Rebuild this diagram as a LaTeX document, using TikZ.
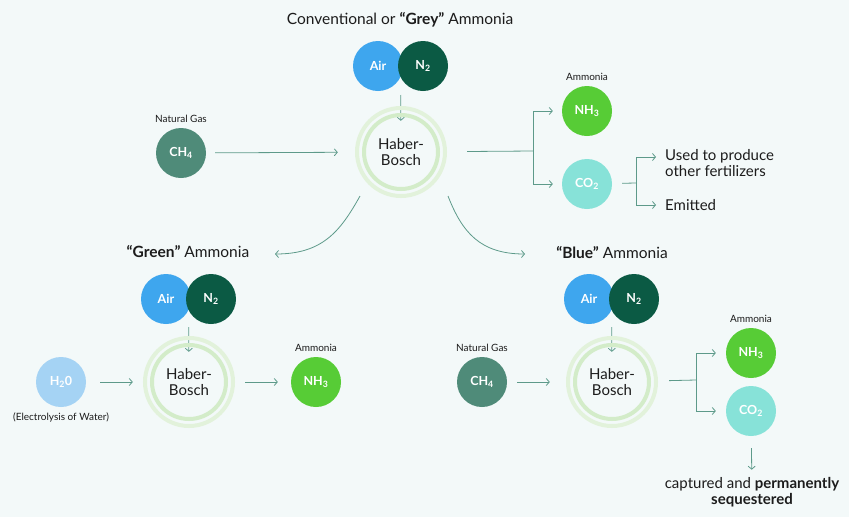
\documentclass[tikz,border=0pt]{standalone}
\usepackage{fontspec}
\setmainfont{Lato}
\usetikzlibrary{arrows.meta,positioning,calc}
\definecolor{bgcol}{HTML}{F3F9F9}
\definecolor{aircol}{HTML}{3EA6EE}
\definecolor{ntwocol}{HTML}{0B5A44}
\definecolor{nhcol}{HTML}{57CC36}
\definecolor{cocol}{HTML}{87E2D8}
\definecolor{chcol}{HTML}{4F8B79}
\definecolor{hocol}{HTML}{A5D3F4}
\definecolor{ringa}{HTML}{E2F2DB}
\definecolor{ringb}{HTML}{D3ECC9}
\definecolor{linecol}{HTML}{5D9A8A}
\definecolor{txtcol}{HTML}{1C1C1C}

\tikzset{
  bubble/.style={circle, minimum size=50pt, inner sep=0pt, text=white,
    font=\fontsize{12.5}{14}\selectfont\bfseries},
  hbnode/.style={circle, minimum size=60pt, inner sep=0pt, align=center,
    text=txtcol, font=\fontsize{15}{15.5}\selectfont},
  heading/.style={text=txtcol, font=\fontsize{15.5}{18}\selectfont},
  lbl/.style={text=txtcol, font=\fontsize{10}{12}\selectfont, inner sep=1pt},
  outtxt/.style={text=txtcol, font=\fontsize{15}{16.5}\selectfont, inner sep=0pt, align=left},
  ln/.style={draw=linecol, line width=0.8pt},
  arr/.style={ln, -{Straight Barb[length=3pt,width=7pt]}},
}

\begin{document}
\begin{tikzpicture}[x=1pt,y=-1pt]
  \fill[bgcol] (0,0) rectangle (849,517);
  \useasboundingbox (0,0) rectangle (849,517);

% Conventional / grey
  \node[heading] (title1) at (400,20) {Conventional or \textbf{“Grey”} Ammonia};
  \node[bubble, fill=aircol] (air1) at (378,66) {Air};
  \node[bubble, fill=ntwocol] (ntwo1) at (423,66) {N\textsubscript{2}};
  \node[hbnode] (hb1) at (401,152) {Haber-\\Bosch};
  \node[bubble, fill=chcol] (ch1) at (181,153) {CH\textsubscript{4}};
  \node[lbl, above=4pt of ch1] (gas1) {Natural Gas};
  \node[bubble, fill=nhcol] (nh1) at (587,111) {NH\textsubscript{3}};
  \node[lbl, above=4pt of nh1] (amm1) {Ammonia};
  \node[bubble, fill=cocol] (co1) at (587,184) {CO\textsubscript{2}};
  \node[outtxt, anchor=west] (used) at (665,163) {Used to produce\\other fertilizers};
  \node[outtxt, anchor=west] (emit) at (665,205) {Emitted};
  \coordinate (br1) at (533,151);
  \coordinate (br2) at (636,183);

  \draw[arr, shorten <=29pt, shorten >=1pt] ($(air1)!.5!(ntwo1)$) -- (hb1);
  \draw[arr, shorten <=9pt, shorten >=33pt] (ch1) -- (hb1);
  \draw[ln, shorten <=36pt] (hb1) -- (br1);
  \draw[arr, shorten >=9pt] (br1) |- (nh1);
  \draw[arr, shorten >=9pt] (br1) |- (co1);
  \draw[ln, shorten <=10pt] (co1) -- (br2);
  \draw[arr, shorten >=9pt] (br2) |- ([yshift=6pt]used.west);
  \draw[arr, shorten >=9pt] (br2) |- (emit);

% Green
  \node[heading] (title2) at (188,252) {\textbf{“Green”} Ammonia};
  \node[bubble, fill=aircol] (air2) at (166,299) {Air};
  \node[bubble, fill=ntwocol] (ntwo2) at (211,299) {N\textsubscript{2}};
  \node[hbnode] (hb2) at (189,382) {Haber-\\Bosch};
  \node[bubble, fill=hocol] (ho2) at (61,382) {H\textsubscript{2}0};
  \node[lbl, below=4pt of ho2] (elec2) {(Electrolysis of Water)};
  \node[bubble, fill=nhcol] (nh2) at (316,382) {NH\textsubscript{3}};
  \node[lbl, above=4pt of nh2] (amm2) {Ammonia};

  \draw[arr, shorten <=28pt] ($(air2)!.5!(ntwo2)$) -- (hb2);
  \draw[arr, shorten <=14pt, shorten >=26pt] (ho2) -- (hb2);
  \draw[arr, shorten <=26pt, shorten >=13pt] (hb2) -- (nh2);

% Blue
  \node[heading] (title3) at (612,253) {\textbf{“Blue”} Ammonia};
  \node[bubble, fill=aircol] (air3) at (589,299) {Air};
  \node[bubble, fill=ntwocol] (ntwo3) at (634,299) {N\textsubscript{2}};
  \node[hbnode] (hb3) at (612,382) {Haber-\\Bosch};
  \node[bubble, fill=chcol] (ch3) at (482,382) {CH\textsubscript{4}};
  \node[lbl, above=4pt of ch3] (gas3) {Natural Gas};
  \node[bubble, fill=nhcol] (nh3) at (751,353) {NH\textsubscript{3}};
  \node[lbl, above=4pt of nh3] (amm3) {Ammonia};
  \node[bubble, fill=cocol] (co3) at (751,411) {CO\textsubscript{2}};
  \node[outtxt, align=center] (capt) at (752,492)
    {captured and \textbf{permanently}\\\textbf{sequestered}};
  \coordinate (br3) at (696,380);

  \draw[arr, shorten <=28pt] ($(air3)!.5!(ntwo3)$) -- (hb3);
  \draw[arr, shorten <=10pt, shorten >=32pt] (ch3) -- (hb3);
  \draw[ln, shorten <=27pt] (hb3) -- (br3);
  \draw[arr, shorten >=10pt] (br3) |- (nh3);
  \draw[arr, shorten >=10pt] (br3) |- (co3);
  \draw[arr, shorten <=12pt, shorten >=7pt] (co3) -- (capt);

% rings round Haber-Bosch
  \foreach \hb in {hb1,hb2,hb3} {
    \draw[ringa, line width=4pt] (\hb) circle (44);
    \draw[ringb, line width=4pt] (\hb) circle (37);
  }

% curved connectors
  \coordinate (gfrom) at (360,196);
  \coordinate (gto) at (275,254);
  \coordinate (bfrom) at (448,196);
  \coordinate (bto) at (525,254);
  \draw[arr] (gfrom) .. controls (340,232) and (322,254) .. (gto);
  \draw[arr] (bfrom) .. controls (462,232) and (480,254) .. (bto);
\end{tikzpicture}
\end{document}
